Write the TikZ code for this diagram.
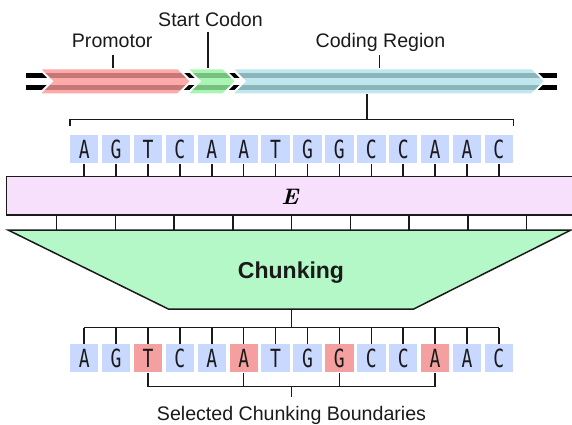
\documentclass[tikz,border=0pt]{standalone}
\usepackage{fontspec}
\newfontfamily\arial{Liberation Sans}
\newfontfamily\nucfont[FakeStretch=0.72]{DejaVu Sans Mono}
\usetikzlibrary{calc}
\definecolor{linec}{RGB}{26,26,26}
\definecolor{pinkc}{RGB}{251,149,149}
\definecolor{greenc}{RGB}{149,242,161}
\definecolor{bluec}{RGB}{174,226,234}
\definecolor{colE}{RGB}{246,224,252}
\definecolor{colTrap}{RGB}{180,248,200}
\definecolor{boxblue}{RGB}{200,216,255}
\definecolor{boxred}{RGB}{244,160,160}
\begin{document}
\begin{tikzpicture}[x=1pt,y=-1pt,
  conn/.style={draw=linec, line width=1.5pt},
  strand/.style={draw=black, line width=5pt},
  chev/.style={draw=white, line width=2pt, fill opacity=0.8, line join=miter},
  nucl/.style={minimum width=28.4pt, minimum height=28.3pt, inner sep=0pt,
    font=\nucfont\fontsize{25}{25}\selectfont, text=linec},
  lab/.style={font=\arial\fontsize{19.6}{19.6}\selectfont, inner sep=0pt, anchor=base, text=linec},
]
\useasboundingbox (0,0) rectangle (572,424);

% DNA strands
\draw[strand] (26,75.7) -- (556.7,75.7);
\draw[strand] (26,87.7) -- (556.7,87.7);

% region arrows
\path[chev, fill=pinkc] (39,68.3) -- (178,68.3) -- (191,81.3) -- (178,94.3) -- (39,94.3) -- (52,81.3) -- cycle;
\path[chev, fill=greenc] (186.7,68.3) -- (223,68.3) -- (236,81.3) -- (223,94.3) -- (186.7,94.3) -- (199.7,81.3) -- cycle;
\path[chev, fill=bluec] (231.7,68.3) -- (532,68.3) -- (545,81.3) -- (532,94.3) -- (231.7,94.3) -- (244.7,81.3) -- cycle;

% labels
\node[lab] (promo) at (112.2,47.7) {Promotor};
\node[lab] (start) at (210.5,26.7) {Start Codon};
\node[lab] (coding) at (380.5,47.7) {Coding Region};
\coordinate (pT) at (113,55);   \coordinate (pB) at (113,68.3);
\coordinate (sT) at (208,31.7); \coordinate (sB) at (208,68.3);
\coordinate (cT) at (379.5,55); \coordinate (cB) at (379.5,68.3);
\draw[conn] (pT) -- (pB);
\draw[conn] (sT) -- (sB);
\draw[conn] (cT) -- (cB);

% rows of nucleotides
\foreach \l [count=\i from 0] in {A,G,T,C,A,A,T,G,G,C,C,A,A,C}{
  \node[nucl, fill=boxblue] (t\i) at (84.2+31.9*\i,149.2) {\l};
  \pgfmathtruncatemacro\r{mod(\i,3)==2 ? 1 : 0}
  \ifnum\r=1 \def\fc{boxred}\else\def\fc{boxblue}\fi
  \node[nucl, fill=\fc] (b\i) at (84.2+31.9*\i,358.2) {\l};
}

% bracket from coding region
\coordinate (cbot) at (367,94.3);
\coordinate (brk) at (367,119.3);
\draw[conn] (cbot) -- (brk);
\draw[conn] ([yshift=8.5pt]t0.north west) |- (brk) -| ([yshift=8.5pt]t13.north east);

% encoder box
\node[draw=linec, line width=1.5pt, fill=colE, minimum width=566.3pt, minimum height=38.3pt, inner sep=0pt] (E) at (289.85,195.85) {};
\node[anchor=base, inner sep=0pt, font=\fontsize{22.5}{22.5}\selectfont] (Etext) at (290.5,204.5) {\textbf{\textit{E}}};
\foreach \i in {0,...,13}{
  \draw[conn] (t\i.south) -- (t\i.south |- E.north);
}

% chunking trapezoid
\path[conn, fill=colTrap] (8,230) -- (571,230) -- (413.7,309) -- (168.3,309) -- cycle;
\foreach \k in {0,...,8}{
  \coordinate (tk\k) at (56.5+58.75*\k,230);
  \draw[conn] (E.south -| tk\k) -- (tk\k);
}
\node[anchor=base, inner sep=0pt, font=\arial\bfseries\fontsize{23}{23}\selectfont, text=linec] (chunk) at (291,278) {Chunking};

% bracket to bottom row
\coordinate (trapB) at (291.5,309);
\coordinate (brk2) at (291.5,327.7);
\draw[conn] (trapB) -- (brk2);
\draw[conn] (b0.north |- brk2) -- (b13.north |- brk2);
\foreach \i in {0,...,13}{
  \draw[conn] (b\i.north) -- (b\i.north |- brk2);
}

% selected boundaries bracket
\coordinate (brk3) at (291.5,386.7);
\coordinate (selT) at (291.5,396.7);
\foreach \i in {2,5,8,11}{
  \draw[conn] (b\i.south) -- (b\i.south |- brk3);
}
\draw[conn] (b2.south |- brk3) -- (b11.south |- brk3);
\draw[conn] (brk3) -- (selT);
\node[lab] (selected) at (291.5,420) {Selected Chunking Boundaries};
\end{tikzpicture}
\end{document}
